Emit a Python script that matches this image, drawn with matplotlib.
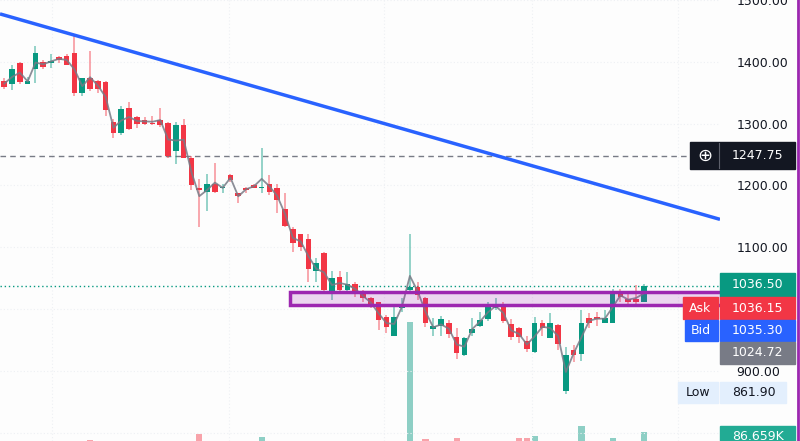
import numpy as np
import matplotlib.pyplot as plt
from matplotlib.patches import Rectangle
from matplotlib.lines import Line2D

# dados das velas (abertura, maxima, minima, fechamento)
opens = [1369, 1364, 1398, 1364, 1389, 1400, 1398, 1408, 1410, 1414,
         1350, 1374, 1369, 1368, 1303, 1285, 1326, 1311, 1306, 1301,
         1305, 1301, 1256, 1298, 1245, 1195, 1190, 1203, 1195, 1217,
         1187, 1196, 1200, 1196, 1203, 1196, 1161, 1130, 1122, 1113,
         1061, 1090, 1029, 1051, 1030, 1041, 1025, 1017, 1011, 987,
         957, 1001, 1030, 1035, 1017, 967, 972, 978, 954, 925,
         961, 972, 983, 1001, 1003, 975, 969, 948, 930, 977,
         953, 974, 867, 933, 927, 985, 987, 977, 978, 1025,
         1016, 1016, 1012]
highs = [1374, 1394, 1400, 1376, 1426, 1403, 1413, 1410, 1413, 1442,
         1374, 1418, 1371, 1369, 1308, 1329, 1335, 1313, 1310, 1313,
         1326, 1303, 1303, 1308, 1248, 1211, 1219, 1237, 1203, 1219,
         1188, 1198, 1203, 1261, 1217, 1203, 1187, 1132, 1122, 1121,
         1082, 1092, 1062, 1062, 1059, 1043, 1030, 1020, 1012, 990,
         1003, 1017, 1122, 1043, 1019, 985, 988, 982, 969, 954,
         985, 995, 1012, 1017, 1012, 983, 970, 957, 987, 982,
         993, 975, 938, 941, 998, 993, 995, 998, 1032, 1033,
         1027, 1038, 1041]
lows = [1356, 1355, 1364, 1364, 1366, 1389, 1390, 1398, 1394, 1345,
        1345, 1352, 1350, 1313, 1277, 1282, 1290, 1293, 1298, 1298,
        1295, 1245, 1234, 1245, 1192, 1132, 1158, 1188, 1188, 1205,
        1172, 1188, 1195, 1187, 1184, 1156, 1132, 1092, 1093, 1043,
        1043, 1025, 1014, 1025, 1027, 1020, 1012, 1001, 966, 961,
        956, 995, 1027, 1014, 970, 957, 957, 953, 919, 924,
        957, 970, 980, 998, 978, 949, 945, 930, 928, 957,
        953, 933, 862, 914, 915, 969, 972, 977, 977, 1011,
        1006, 1006, 1011]
closes = [1360, 1389, 1368, 1369, 1414, 1392, 1402, 1403, 1395, 1350,
          1373, 1356, 1356, 1322, 1285, 1324, 1292, 1300, 1300, 1300,
          1297, 1248, 1297, 1245, 1200, 1192, 1203, 1190, 1198, 1208,
          1182, 1193, 1196, 1198, 1190, 1176, 1134, 1106, 1100, 1064,
          1074, 1030, 1050, 1030, 1041, 1025, 1017, 1003, 982, 970,
          987, 1004, 1035, 1022, 977, 972, 983, 959, 928, 953,
          967, 982, 1003, 1003, 980, 954, 954, 935, 978, 969,
          977, 943, 925, 925, 977, 977, 983, 985, 1025, 1019,
          1011, 1011, 1036.5]
volumes = [21000, 18000, 24000, 16000, 22000, 15000, 19000, 14000, 17000, 23000,
           20000, 33000, 18000, 22000, 19000, 24000, 17000, 15000, 14000, 16000,
           18000, 21000, 22000, 19000, 24000, 73000, 20000, 17000, 15000, 16000,
           18000, 14000, 15000, 53000, 19000, 21000, 23000, 22000, 18000, 25000,
           20000, 24000, 19000, 17000, 16000, 18000, 15000, 17000, 22000, 19000,
           21000, 24000, 820000, 23000, 40000, 18000, 20000, 17000, 45000, 22000,
           19000, 16000, 21000, 18000, 20000, 24000, 47000, 47000, 60000, 23000,
           19000, 22000, 25000, 21000, 127000, 18000, 16000, 19000, 47000, 21000,
           20000, 24000, 86659]

# desenhos: linha de tendencia, zona, linhas horizontais
trend_x = [-0.55, 91.76]
trend_p = [1477.5, 1145.0]
zone_start = 36.6
zone_low, zone_high = 1007, 1028
alert_price = 1247.75
last_price = 1036.50
price_ticks = [800, 900, 1000, 1100, 1200, 1300, 1400, 1500]
vgrid = [6.1, 28.8, 48.7, 67.7, 86.4]

UP, DOWN = '#089981', '#f23645'
W, H = 800, 441

o = np.array(opens, float)
h = np.array(highs, float)
l = np.array(lows, float)
c = np.array(closes, float)
idx = np.arange(len(c))
up = c >= o
cols = np.where(up, UP, DOWN)

fig = plt.figure(figsize=(8, 4.41), dpi=100)
fig.patch.set_facecolor('#fdfdfd')
ax = fig.add_axes([0, 0, 720 / W, 1])
ax.set_xlim(-0.55, 91.76)
ax.set_ylim(786.3, 1498.5)

# volume em eixo separado, atras das velas
axv = ax.twinx()
axv.set_ylim(26700, 2968000)
axv.bar(idx, volumes, width=0.8, color=cols, alpha=0.45, linewidth=0)
axv.axis('off')
ax.set_zorder(2)
axv.set_zorder(1)
ax.patch.set_visible(False)

# grade
for p in price_ticks:
    ax.axhline(p, color='#eef0f4', lw=0.8, ls=(0, (1, 2)), zorder=0)
for gx in vgrid:
    ax.axvline(gx, color='#eef0f4', lw=0.8, ls=(0, (1, 2)), zorder=0)

# velas
ax.vlines(idx, l, h, colors=cols, lw=1.2, alpha=0.5, zorder=2)
body = np.maximum(np.abs(c - o), 1.6)
ax.bar(idx, body, bottom=np.minimum(o, c), width=0.72, color=cols, linewidth=0, zorder=3)

# linha ohlc4
ax.plot(idx, (o + h + l + c) / 4, color='#787b86', lw=1.3, alpha=0.85, zorder=4)

ax.axhline(alert_price, color='#787b86', lw=1, ls=(0, (4, 3)), zorder=1)
ax.axhline(last_price, color=UP, lw=1, ls=(0, (1, 2)), zorder=1)

ax.plot(trend_x, trend_p, color='#2962ff', lw=2.5, solid_capstyle='butt', zorder=5)
ax.add_patch(Rectangle((zone_start, zone_low), 100, zone_high - zone_low,
                       facecolor=(0.61, 0.15, 0.69, 0.18), edgecolor='#9c27b0',
                       lw=2.5, zorder=5))

# 1000.00 fica escondido atras das etiquetas Ask/Bid
ax.set_yticks(price_ticks)
ax.set_yticklabels(['' if p == 1000 else '%.2f' % p for p in price_ticks])
ax.yaxis.tick_right()
ax.tick_params(axis='y', length=0, pad=12, labelsize=9, labelcolor='#131722')
ax.set_xticks([])
for s in ax.spines.values():
    s.set_visible(False)


def box(x0, y0, x1, y1, color):
    fig.add_artist(Rectangle((x0 / W, 1 - y1 / H), (x1 - x0) / W, (y1 - y0) / H,
                             transform=fig.transFigure, color=color, zorder=5))


def label(x, y, s, color, ha='left', size=9):
    fig.text(x / W, 1 - y / H, s, color=color, ha=ha, va='center',
             fontsize=size, zorder=6)


# etiquetas do eixo de precos
box(690, 142, 795, 169, '#131722')
label(705, 155.5, '\u2295', 'white', ha='center', size=13)
fig.add_artist(Line2D([719 / W] * 2, [1 - 143 / H, 1 - 168 / H], color='#5d606b', lw=0.8, zorder=6))
label(732, 155.5, '1247.75', 'white')

box(720, 273, 795, 297, UP)
label(732, 285, '%.2f' % last_price, 'white')
box(683, 297, 718, 319, DOWN)
label(700, 308, 'Ask', 'white', ha='center')
box(720, 297, 795, 319, DOWN)
label(732, 308, '1036.15', 'white')
box(685, 320, 718, 341, '#2962ff')
label(701, 330.5, 'Bid', 'white', ha='center')
box(720, 320, 795, 341, '#2962ff')
label(732, 330.5, '1035.30', 'white')
box(720, 342, 795, 364, '#787b86')
label(732, 353, '1024.72', 'white')
box(678, 382, 718, 403, '#e3effd')
label(698, 392.5, 'Low', '#131722', ha='center')
box(720, 382, 786, 403, '#e3effd')
label(732, 392.5, '861.90', '#131722')
box(720, 426, 795, 445, '#22ab94')
label(732, 436, '86.659K', 'white')

fig.add_artist(Line2D([797.5 / W] * 2, [0, 1], color='#9c27b0', lw=2, zorder=7))

fig.savefig('out.png', dpi=100, facecolor=fig.get_facecolor())
